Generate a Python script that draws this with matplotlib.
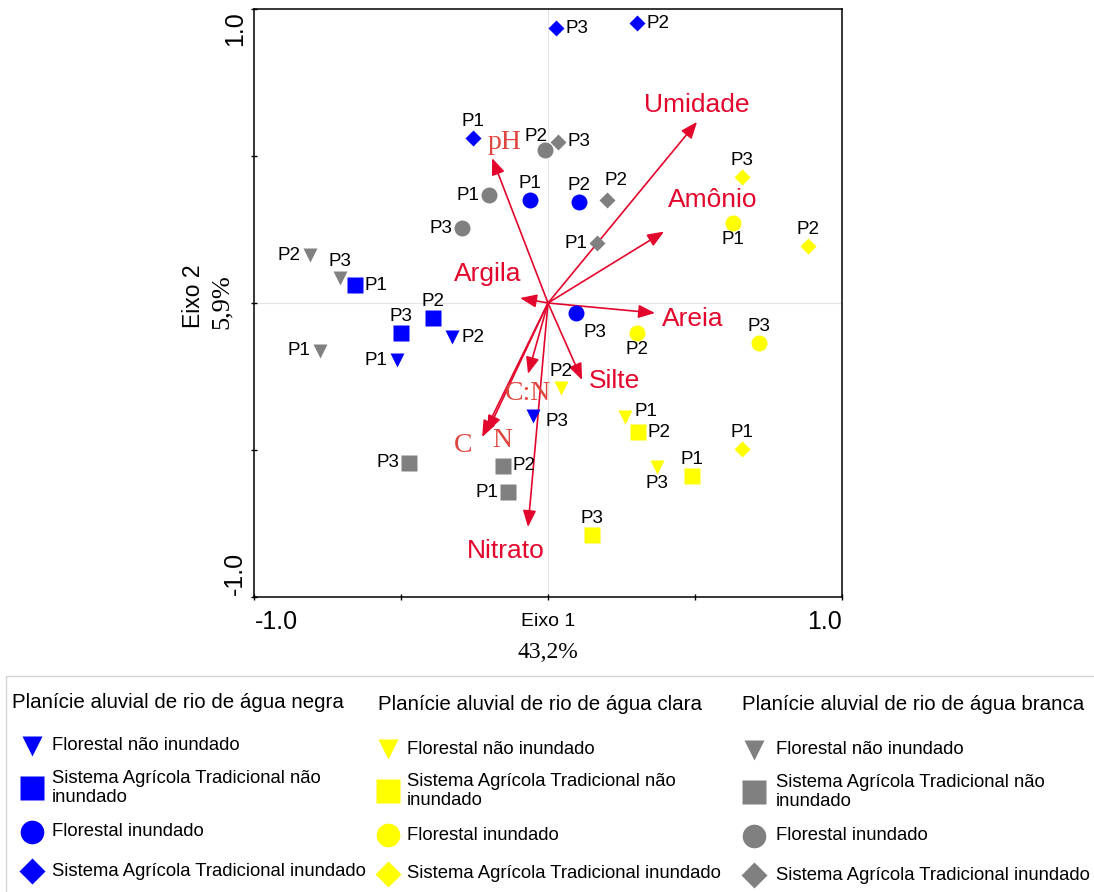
import matplotlib
matplotlib.use("Agg")
import matplotlib.pyplot as plt
from matplotlib.patches import Rectangle

plt.rcParams["font.family"] = "Liberation Sans"
SERIF = "Liberation Serif"
RED = "#e3062c"
RED_SERIF = "#e0463f"

W, H = 1094, 892

# groups: river type -> colour, land use -> marker
rivers = [
    "Planície aluvial de rio de água negra",
    "Planície aluvial de rio de água clara",
    "Planície aluvial de rio de água branca",
]
river_colors = ["#0000ff", "#ffff00", "#808080"]
uses = [
    "Florestal não inundado",
    "Sistema Agrícola Tradicional não\ninundado",
    "Florestal inundado",
    "Sistema Agrícola Tradicional inundado",
]
use_markers = ["v", "s", "o", "D"]
plots = ["P1", "P2", "P3"]

# site scores, one list per land use, order P1, P2, P3
negra_x = [[-0.514, -0.327, -0.051], [-0.656, -0.391, -0.500],
           [-0.061, 0.105, 0.095], [-0.255, 0.303, 0.027]]
negra_y = [[-0.194, -0.116, -0.384], [0.061, -0.051, -0.102],
           [0.350, 0.344, -0.034], [0.561, 0.952, 0.935]]
clara_x = [[0.262, 0.044, 0.371], [0.490, 0.306, 0.150],
           [0.629, 0.303, 0.718], [0.660, 0.884, 0.660]]
clara_y = [[-0.388, -0.289, -0.558], [-0.588, -0.439, -0.789],
           [0.272, -0.102, -0.136], [-0.497, 0.194, 0.429]]
branca_x = [[-0.776, -0.810, -0.707], [-0.136, -0.153, -0.473],
            [-0.201, -0.010, -0.293], [0.167, 0.201, 0.034]]
branca_y = [[-0.163, 0.163, 0.085], [-0.643, -0.554, -0.544],
            [0.367, 0.520, 0.255], [0.204, 0.350, 0.548]]

# environmental vectors
env_names = ["Umidade", "Amônio", "pH", "Argila", "Areia", "Silte",
             "C:N", "C", "N", "Nitrato"]
env_x = [0.507, 0.395, -0.190, -0.095, 0.364, 0.116, -0.068, -0.224, -0.207, -0.068]
env_y = [0.616, 0.243, 0.493, 0.017, -0.034, -0.262, -0.241, -0.456, -0.439, -0.762]

# ---- layout (label placement only) ----
placements = {
    "r": (7, 0, "left", "center"), "l": (-7, 0, "right", "center"),
    "t": (0, 6, "center", "bottom"), "b": (0, -6, "center", "top"),
    "rd": (9, -4, "left", "center"), "br": (14, -14, "center", "center"),
    "tl": (-6.5, 9.5, "center", "center"), "ru": (7, 4, "left", "center"),
    "tr": (6.5, 14, "center", "center"),
}
label_pos = [
    [["l", "r", "rd"], ["r", "t", "t"], ["t", "t", "br"], ["t", "r", "r"]],
    [["ru", "t", "b"], ["t", "r", "t"], ["b", "b", "t"], ["t", "t", "t"]],
    [["l", "l", "t"], ["l", "r", "l"], ["l", "tl", "l"], ["l", "tr", "r"]],
]
env_offsets = [(0, 12), (35, 23), (9, 11), (-23, 17), (27, -4), (23, -1),
               (0, -14), (-14, -6), (11, -6), (-16, -17)]
serif_labels = {"pH", "C:N", "C", "N"}
ms_plot = {"v": 9.5, "s": 11, "o": 11.5, "D": 8}
ms_leg = {"v": 15, "s": 17, "o": 17, "D": 13}


def fpos(x, y):
    return x / W, 1 - y / H


fig = plt.figure(figsize=(W / 100, H / 100), dpi=100)
ax = fig.add_axes([254 / W, 1 - 597 / H, 588 / W, 588 / H])
ax.set_xlim(-1, 1)
ax.set_ylim(-1, 1)
ax.axhline(0, color="#e4e4e4", lw=0.8, zorder=0)
ax.axvline(0, color="#e4e4e4", lw=0.8, zorder=0)
ticks = [-1, -0.5, 0, 0.5, 1]
ax.set_xticks(ticks)
ax.set_yticks(ticks)
ax.set_xticklabels([])
ax.set_yticklabels([])
ax.tick_params(direction="inout", length=5, width=1)
for s in ax.spines.values():
    s.set_linewidth(1.1)

# environmental arrows
for name, x, y, off in zip(env_names, env_x, env_y, env_offsets):
    ax.annotate("", xy=(x, y), xytext=(0, 0),
                arrowprops=dict(arrowstyle="-|>,head_length=0.5,head_width=0.2",
                                color=RED, lw=1.2, mutation_scale=20,
                                shrinkA=0, shrinkB=0), zorder=2)
    serif = name in serif_labels
    ax.annotate(name, xy=(x, y), xytext=off, textcoords="offset points",
                ha="center", va="center",
                color=RED_SERIF if serif else RED,
                fontsize=20 if serif else 19,
                family=SERIF if serif else "Liberation Sans", zorder=4)

# site scores
river_xs = [negra_x, clara_x, branca_x]
river_ys = [negra_y, clara_y, branca_y]
for r, color in enumerate(river_colors):
    for u, marker in enumerate(use_markers):
        xs, ys = river_xs[r][u], river_ys[r][u]
        ax.plot(xs, ys, ls="none", marker=marker, ms=ms_plot[marker],
                color=color, mec="none", zorder=3)
        for x, y, p, code in zip(xs, ys, plots, label_pos[r][u]):
            dx, dy, ha, va = placements[code]
            ax.annotate(p, xy=(x, y), xytext=(dx, dy), textcoords="offset points",
                        ha=ha, va=va, fontsize=13.5, color="black", zorder=4)

# axis labels and end tick labels
fig.text(*fpos(255, 622), "-1.0", fontsize=18, ha="left", va="center")
fig.text(*fpos(842, 622), "1.0", fontsize=18, ha="right", va="center")
fig.text(*fpos(235, 11), "1.0", fontsize=18, ha="center", va="top", rotation=90)
fig.text(*fpos(235, 595), "-1.0", fontsize=18, ha="center", va="bottom", rotation=90)
fig.text(*fpos(548, 622), "Eixo 1", fontsize=14, ha="center", va="center")
fig.text(*fpos(548, 653), "43,2%", fontsize=17, ha="center", va="center", family=SERIF)
fig.text(*fpos(193, 296), "Eixo 2", fontsize=16.5, ha="center", va="center", rotation=90)
fig.text(*fpos(222, 302), "5,9%", fontsize=19, ha="center", va="center",
         rotation=90, family=SERIF)

# legend block
lax = fig.add_axes([0, 0, 1, 1])
lax.set_xlim(0, W)
lax.set_ylim(H, 0)
lax.axis("off")
lax.add_patch(Rectangle((6, 676), W, 300, fill=False, ec="#d4d4d4", lw=1))
col_title_x = [12, 378, 742]
col_marker_x = [32, 388, 754]
col_text_x = [52, 407, 776]
col_shift = [0, 3, 4]
title_y = 703
row_y = [746, 788, 832, 871]
for r, color in enumerate(river_colors):
    lax.text(col_title_x[r], title_y + col_shift[r] / 2, rivers[r], fontsize=14.8,
             ha="left", va="center")
    for u, marker in enumerate(use_markers):
        y = row_y[u] + col_shift[r]
        lax.plot([col_marker_x[r]], [y], ls="none", marker=marker,
                 ms=ms_leg[marker], color=color, mec="none")
        lax.text(col_text_x[r], y, uses[u], fontsize=13.3, ha="left",
                 va="center", linespacing=1.1)

fig.savefig("out.png", dpi=100)
